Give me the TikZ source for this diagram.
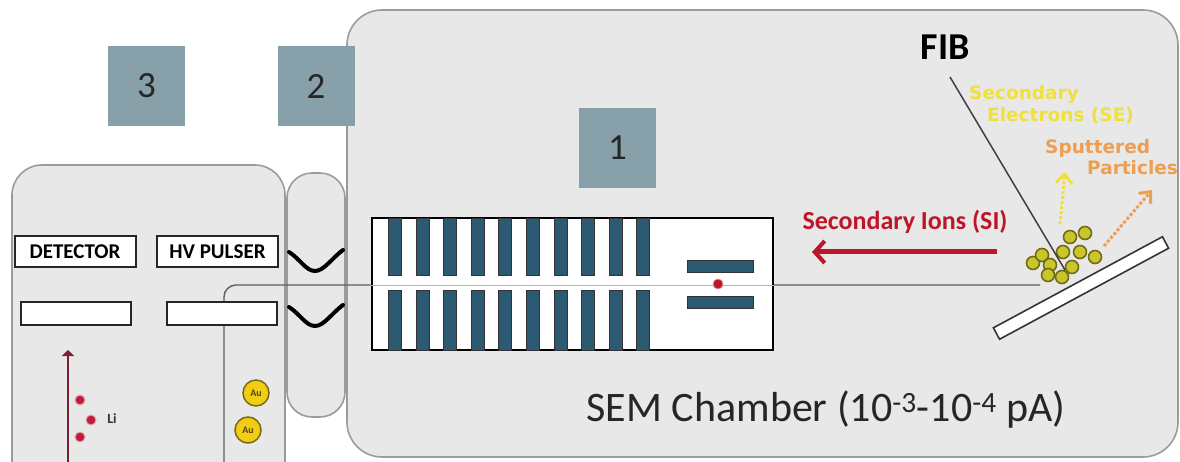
\documentclass[tikz,border=0pt]{standalone}
\usepackage{fontspec}
\setmainfont{Carlito}
\newfontfamily\widesans{DejaVu Sans}
\usetikzlibrary{arrows.meta}

\definecolor{panel}{RGB}{232,232,232}
\definecolor{edge}{RGB}{155,155,155}
\definecolor{tagblue}{RGB}{136,160,170}
\definecolor{plate}{RGB}{44,90,115}
\definecolor{ionred}{RGB}{190,22,40}
\definecolor{liarrow}{RGB}{125,30,50}
\definecolor{lidot}{RGB}{190,30,60}
\definecolor{seyellow}{RGB}{238,225,60}
\definecolor{sporange}{RGB}{238,158,80}
\definecolor{goldfill}{RGB}{242,205,20}
\definecolor{olive}{RGB}{115,105,25}
\definecolor{particle}{RGB}{200,198,40}
\definecolor{beamgray}{RGB}{95,95,95}

\begin{document}
\begin{tikzpicture}[x=1pt,y=-1pt,
  housing/.style={draw=edge, line width=1.6pt, fill=panel, inner sep=0pt, outer sep=0pt},
  tag/.style={fill=tagblue, minimum width=77pt, minimum height=80pt, inner sep=0pt,
    text=black!85, font=\fontsize{37}{37}\selectfont},
  labelbox/.style={draw=black!85, line width=2pt, fill=white, minimum width=121pt,
    minimum height=31pt, inner sep=0pt, font=\bfseries\fontsize{21}{21}\selectfont},
  slot/.style={draw=black!85, line width=2pt, fill=white, minimum width=110pt,
    minimum height=23pt, inner sep=0pt},
  chev/.style={line width=4pt, black, line cap=round},
  beam/.style={draw=beamgray, line width=1.4pt},
  tofbox/.style={draw=black, line width=2pt, fill=white, inner sep=0pt},
  plate/.style={draw=black!80, line width=0.8pt, fill=plate, inner sep=0pt},
  particle/.style={circle, draw=olive, line width=1.6pt, fill=particle, minimum size=13pt, inner sep=0pt},
  lidot/.style={circle, draw=lidot!40, line width=1pt, fill=lidot, minimum size=10pt, inner sep=0pt},
  gold/.style={circle, draw=olive, line width=1.5pt, fill=goldfill, minimum size=26pt, inner sep=0pt,
    text=olive!70!black, font=\bfseries\fontsize{10}{10}\selectfont},
  emitlabel/.style={anchor=west, inner sep=0pt, font=\widesans\bfseries\fontsize{18.5}{18.5}\selectfont},
]
\useasboundingbox (0,0) rectangle (1180,462);

% housings: atom-probe cabinet, load-lock pill, SEM chamber
\node[housing, rounded corners=30pt, minimum width=273pt, minimum height=340pt, anchor=north west] (cabinet) at (12,165) {};
\node[housing, rounded corners=25pt, minimum width=58pt, minimum height=244pt, anchor=north west] (lock) at (287,173) {};
\node[housing, rounded corners=35pt, minimum width=831pt, minimum height=447pt, anchor=north west] (chamber) at (347,10) {};

% region tags
\node[tag] (tag3) at (146.5,86) {3};
\node[tag] (tag2) at (316,86) {2};
\node[tag] (tag1) at (617.5,148) {1};

% detector and pulser
\node[labelbox] (det) at (75,251.5) {DETECTOR};
\node[labelbox] (hv) at (217.5,251.5) {HV PULSER};
\node[slot] (detslot) at (76,313.5) {};

% beam path from the cabinet into the chamber
\coordinate (beamstart) at (224,470);
\coordinate (beamend) at (1040,285);
\draw[beam, rounded corners=12pt] (beamstart) |- (beamend);
\node[slot] (hvslot) at (222,313.5) {};

% valves
\draw[chev] (289,252) .. controls (300,259) and (306,271) .. (315,271) .. controls (324,271) and (332,258) .. (343,250);
\draw[chev] (289,307) .. controls (300,314) and (306,326) .. (315,326) .. controls (324,326) and (332,313) .. (343,305);

% time-of-flight analyser
\node[tofbox, minimum width=401pt, minimum height=132pt] (tof) at (572.5,284) {};
\draw[draw=brown!40!gray!60, line width=1pt] (tof.west |- beamend) -- (tof.east |- beamend);
\foreach \i in {0,...,9} {
  \node[plate, minimum width=13pt, minimum height=57pt, anchor=north west] (up\i) at (388+27.6*\i,218) {};
  \node[plate, minimum width=13pt, minimum height=60pt, anchor=north west] (dn\i) at (388+27.6*\i,290) {};
}
\node[plate, minimum width=66pt, minimum height=12pt] (defl1) at (720,266) {};
\node[plate, minimum width=66pt, minimum height=12pt] (defl2) at (720,302.5) {};
\node[circle, fill=ionred, draw=ionred!50, line width=0.8pt, minimum size=10pt, inner sep=0pt] (packet) at (718,284) {};

% secondary ions
\coordinate (sistart) at (997,252);
\coordinate (siend) at (812,252);
\draw[ionred, line width=5pt, -{Straight Barb[length=10pt, width=22pt, line width=4pt]}] (sistart) -- (siend);
\node[text=ionred, font=\bfseries\fontsize{26}{26}\selectfont] (silabel) at (905,222) {Secondary Ions (SI)};

% sample
\node[draw=black!80, line width=1.6pt, fill=white, minimum width=192pt, minimum height=13pt, inner sep=0pt, rotate=28.3] (sample) at (1081,288) {};

% sputtered cloud
\foreach \px/\py [count=\k] in {1033/263,1042/255,1050/265,1048/275,1062/277,1063/252,1072/267,1080/252,1070/237,1085/233,1095/257}
  \node[particle] (p\k) at (\px,\py) {};

% focused ion beam
\node[font=\bfseries\fontsize{38}{38}\selectfont] (fib) at (945,47) {FIB};
\coordinate (fibtop) at (950,77);
\coordinate (fibtip) at (1065,270);
\draw[black!75, line width=1.5pt] (fibtop) -- (fibtip);

% emitted electrons and particles
\coordinate (sefrom) at (1060,224);
\coordinate (seto) at (1065,172);
\draw[seyellow, line width=3pt, dotted, -{Straight Barb[length=9pt, width=16pt, line width=3pt]}] (sefrom) -- (seto);
\coordinate (spfrom) at (1104,246);
\coordinate (spto) at (1152,190);
\draw[sporange, line width=3pt, dotted, -{Straight Barb[length=9pt, width=16pt, line width=3pt]}] (spfrom) -- (spto);
\node[emitlabel, text=seyellow] (se1) at (969,94) {Secondary};
\node[emitlabel, text=seyellow] (se2) at (987,116) {Electrons (SE)};
\node[emitlabel, text=sporange] (sp1) at (1045,148) {Sputtered};
\node[emitlabel, text=sporange] (sp2) at (1087,168) {Particles};

% chamber caption
\node[text=black!85, font=\fontsize{42}{42}\selectfont] (caption) at (826,410) {SEM Chamber (10\textsuperscript{-3}-10\textsuperscript{-4} pA)};

% lithium ions heading to the detector
\coordinate (lifrom) at (68,470);
\coordinate (lito) at (68,350);
\draw[liarrow, line width=1.6pt, -{Triangle[length=6pt, width=12pt]}] (lifrom) -- (lito);
\node[lidot] (li1) at (80,400) {};
\node[lidot] (li2) at (91,420) {};
\node[lidot] (li3) at (80,437) {};
\node[font=\bfseries\fontsize{14}{14}\selectfont, text=black!80] (lilabel) at (112,419) {Li};

% gold atoms
\node[gold] (au1) at (256,393) {Au};
\node[gold] (au2) at (248,430) {Au};
\end{tikzpicture}
\end{document}
